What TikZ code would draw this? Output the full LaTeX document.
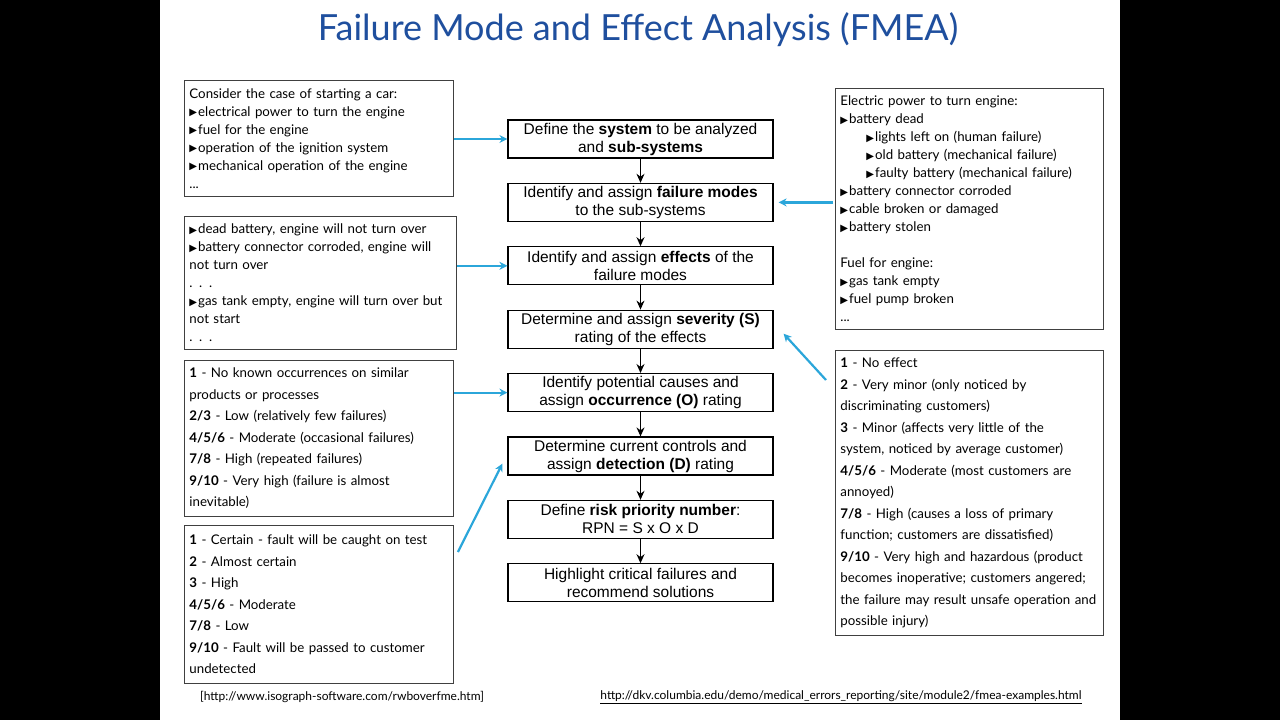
\documentclass[tikz,border=0pt]{standalone}
\usepackage{fontspec}
\setmainfont{Lato}
\setsansfont{Liberation Sans}
\newfontfamily\symfont{DejaVu Sans}
\usetikzlibrary{arrows.meta, positioning}

\definecolor{titleblue}{HTML}{1F4F9E}
\definecolor{linkcyan}{HTML}{2BA6DA}
\newcommand{\bul}{\raisebox{0.6pt}{\symfont\fontsize{10}{10}\selectfont ▶}\kern1pt}

\begin{document}
\begin{tikzpicture}[x=1pt, y=-1pt, >=Stealth,
  fmeastep/.style={draw, line width=1.2pt, minimum width=265pt, minimum height=38pt,
    inner sep=0pt, align=center, font=\sffamily\fontsize{15.5}{18}\selectfont},
  notebox/.style={draw=black!75, line width=0.9pt, anchor=north west, align=left,
    inner xsep=5pt, inner ysep=8pt, font=\fontsize{13.3}{18}\selectfont},
  ratingbox/.style={notebox, inner ysep=7.5pt, font=\fontsize{13.3}{21.5}\selectfont},
  flowarrow/.style={line width=1.2pt, -{Stealth[length=9pt, width=8pt]}},
  linkarrow/.style={line width=2.2pt, linkcyan, -{Stealth[length=8pt, width=8pt]}},
  node distance=24.2pt]

  % slide with black side bars
  \useasboundingbox (0,0) rectangle (1280,720);
  \fill[black] (0,0) rectangle (1280,720);
  \fill[white] (160,0) rectangle (1120,720);

  \node[titleblue, font=\fontsize{36}{42}\selectfont] (title) at (638,30)
    {Failure Mode and Effect Analysis (FMEA)};

  % main steps
  \node[fmeastep] (s1) at (640.5,139) {Define the \textbf{system} to be analyzed\\and \textbf{sub-systems}};
  \node[fmeastep, below=of s1] (s2) {Identify and assign \textbf{failure modes}\\to the sub-systems};
  \node[fmeastep, below=of s2] (s3) {Identify and assign \textbf{effects} of the\\failure modes};
  \node[fmeastep, below=of s3] (s4) {Determine and assign \textbf{severity (S)}\\rating of the effects};
  \node[fmeastep, below=of s4] (s5) {Identify potential causes and\\assign \textbf{occurrence (O)} rating};
  \node[fmeastep, below=of s5] (s6) {Determine current controls and\\assign \textbf{detection (D)} rating};
  \node[fmeastep, below=of s6] (s7) {Define \textbf{risk priority number}:\\RPN = S x O x D};
  \node[fmeastep, below=of s7] (s8) {Highlight critical failures and\\recommend solutions};

  \foreach \a/\b in {s1/s2, s2/s3, s3/s4, s4/s5, s5/s6, s6/s7, s7/s8}
    \draw[flowarrow] (\a) -- (\b);

  % left notes
  \node[notebox, text width=259pt] (car) at (184,80)
    {Consider the case of starting a car:\\
     \bul electrical power to turn the engine\\
     \bul fuel for the engine\\
     \bul operation of the ignition system\\
     \bul mechanical operation of the engine\\
     ...};
  \node[notebox, text width=262pt, inner ysep=7.5pt] (modes) at (184,216)
    {\bul dead battery, engine will not turn over\\
     \bul battery connector corroded, engine will\\
     not turn over\\
     . . .\\
     \bul gas tank empty, engine will turn over but\\
     not start\\
     . . .};
  \node[ratingbox, text width=259pt] (occur) at (184,360)
    {\textbf{1} - No known occurrences on similar\\
     products or processes\\
     \textbf{2/3} - Low (relatively few failures)\\
     \textbf{4/5/6} - Moderate (occasional failures)\\
     \textbf{7/8} - High (repeated failures)\\
     \textbf{9/10} - Very high (failure is almost\\
     inevitable)};
  \node[ratingbox, text width=259pt, inner ysep=9.5pt] (detect) at (184,525)
    {\textbf{1} - Certain - fault will be caught on test\\
     \textbf{2} - Almost certain\\
     \textbf{3} - High\\
     \textbf{4/5/6} - Moderate\\
     \textbf{7/8} - Low\\
     \textbf{9/10} - Fault will be passed to customer\\
     undetected};

  % right notes
  \node[notebox, text width=258pt, inner ysep=7.5pt] (causes) at (835,88)
    {Electric power to turn engine:\\
     \bul battery dead\\
     \hspace*{26pt}\bul lights left on (human failure)\\
     \hspace*{26pt}\bul old battery (mechanical failure)\\
     \hspace*{26pt}\bul faulty battery (mechanical failure)\\
     \bul battery connector corroded\\
     \bul cable broken or damaged\\
     \bul battery stolen\\[18pt]
     Fuel for engine:\\
     \bul gas tank empty\\
     \bul fuel pump broken\\
     ...};
  \node[ratingbox, text width=258pt] (sever) at (835,350)
    {\textbf{1} - No effect\\
     \textbf{2} - Very minor (only noticed by\\
     discriminating customers)\\
     \textbf{3} - Minor (affects very little of the\\
     system, noticed by average customer)\\
     \textbf{4/5/6} - Moderate (most customers are\\
     annoyed)\\
     \textbf{7/8} - High (causes a loss of primary\\
     function; customers are dissatisfied)\\
     \textbf{9/10} - Very high and hazardous (product\\
     becomes inoperative; customers angered;\\
     the failure may result unsafe operation and\\
     possible injury)};

  % links to the steps
  \draw[linkarrow] (car.east |- s1.west) -- (s1.west);
  \draw[linkarrow] (modes.east |- s3.west) -- (s3.west);
  \draw[linkarrow] (occur.east |- s5.west) -- (s5.west);
  \draw[linkarrow] ([xshift=4pt, yshift=-27pt]detect.north east) -- ([xshift=-5pt, yshift=12pt]s6.south west);
  \draw[linkarrow] ([xshift=-2pt]causes.west |- s2.east) -- ([xshift=5pt]s2.east);
  \draw[linkarrow] ([xshift=-9pt, yshift=-30pt]sever.north west) -- ([xshift=10pt, yshift=-4.5pt]s4.east);

  % sources
  \node[font=\fontsize{12}{14}\selectfont] (src1) at (342,697)
    {[http://www.isograph-software.com/rwboverfme.htm]};
  \node[font=\fontsize{12}{14}\selectfont] (src2) at (841,697)
    {\underline{http://dkv.columbia.edu/demo/medical\_errors\_reporting/site/module2/fmea-examples.html}};
\end{tikzpicture}
\end{document}
